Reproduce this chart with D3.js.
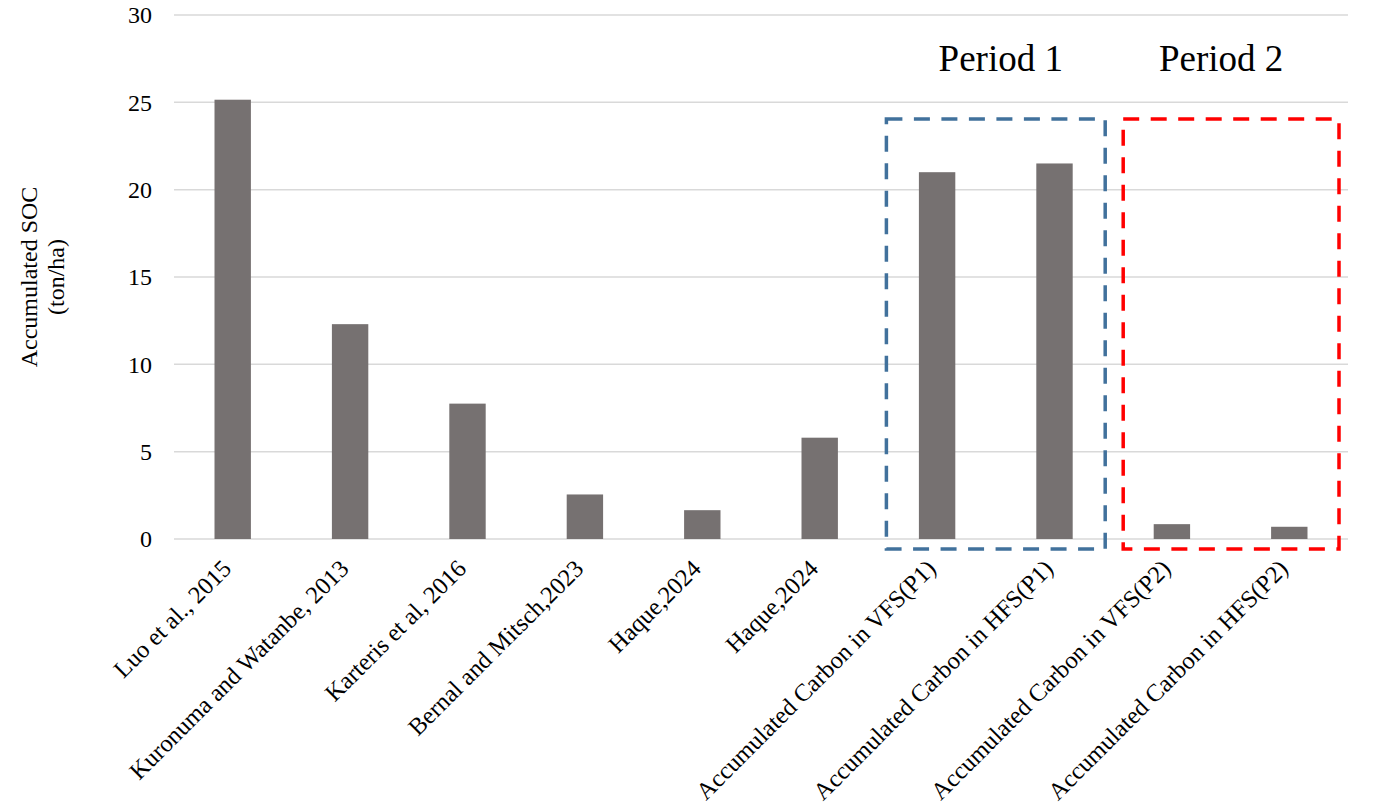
<!DOCTYPE html>
<html>
<head>
<meta charset="utf-8">
<script src="https://cdn.jsdelivr.net/npm/d3@7"></script>
<style>
  body { margin: 0; background: #fff; }
  text { font-family: "Liberation Serif", "Times New Roman", serif; fill: #000; }
</style>
</head>
<body>
<div id="chart"></div>
<script>
const categories = [
  'Luo et al., 2015',
  'Kuronuma and Watanbe, 2013',
  'Karteris et al, 2016',
  'Bernal and Mitsch,2023',
  'Haque,2024',
  'Haque,2024 ',
  'Accumulated Carbon in VFS(P1)',
  'Accumulated Carbon in HFS(P1)',
  'Accumulated Carbon in VFS(P2)',
  'Accumulated Carbon in HFS(P2)'
]
const values = [25.15, 12.3, 7.75, 2.55, 1.65, 5.8, 21.0, 21.5, 0.85, 0.7]
const yTicks = [0, 5, 10, 15, 20, 25, 30]
const periods = [
  { label: 'Period 1', from: 6, to: 7, color: '#41719C' },
  { label: 'Period 2', from: 8, to: 9, color: '#FF0000' }
]

const width = 1383
const height = 812
const margin = { top: 15, right: 35, bottom: 273, left: 174 }
const chartWidth = width - margin.left - margin.right
const chartHeight = height - margin.top - margin.bottom

const svg = d3.select('#chart').append('svg')
  .attr('width', width)
  .attr('height', height)

const chart = svg.append('g')
  .attr('transform', `translate(${margin.left},${margin.top})`)

const x = d3.scaleBand()
  .domain(categories)
  .range([0, chartWidth])
  .paddingInner(0.69)
  .paddingOuter(0.345)

const y = d3.scaleLinear()
  .domain([0, 30])
  .range([chartHeight, 0])

// gridlines
chart.append('g')
  .selectAll('line')
  .data(yTicks)
  .join('line')
  .attr('x1', 0)
  .attr('x2', chartWidth)
  .attr('y1', d => y(d))
  .attr('y2', d => y(d))
  .attr('stroke', '#D9D9D9')
  .attr('stroke-width', 1.5)

// y tick labels
chart.append('g')
  .selectAll('text')
  .data(yTicks)
  .join('text')
  .attr('x', -22)
  .attr('y', d => y(d))
  .attr('dy', '0.35em')
  .attr('text-anchor', 'end')
  .style('font-size', '24px')
  .text(d => d)

// bars
chart.append('g')
  .selectAll('rect')
  .data(values)
  .join('rect')
  .attr('x', (d, i) => x(categories[i]))
  .attr('width', x.bandwidth())
  .attr('y', d => y(d))
  .attr('height', d => y(0) - y(d))
  .attr('fill', '#767171')

// category labels
chart.append('g')
  .selectAll('text')
  .data(categories)
  .join('text')
  .attr('transform', d => `translate(${x(d) + x.bandwidth() / 2 - 6},${chartHeight + 25}) rotate(-45)`)
  .attr('dy', '0.35em')
  .attr('text-anchor', 'end')
  .style('font-size', '24.5px')
  .text(d => d.trim())

// period boxes
const step = x.step()
const labelShift = [5, -10]
const boxes = chart.append('g')
periods.forEach((p, k) => {
  const x0 = x(categories[p.from]) - step * x.paddingInner() / 2 + (k === 0 ? 8 : 10)
  const x1 = x(categories[p.to]) + x.bandwidth() + step * x.paddingInner() / 2 - (k === 0 ? 8 : 9)
  const y0 = y(24.05)
  const y1 = y(0) + 10
  boxes.append('rect')
    .attr('x', x0)
    .attr('y', y0)
    .attr('width', x1 - x0)
    .attr('height', y1 - y0)
    .attr('fill', 'none')
    .attr('stroke', p.color)
    .attr('stroke-width', 3.5)
    .attr('stroke-dasharray', '16,11.5')
  boxes.append('text')
    .attr('x', (x0 + x1) / 2 + labelShift[k])
    .attr('y', y(27.5) + 12)
    .attr('text-anchor', 'middle')
    .style('font-size', '37px')
    .text(p.label)
})

// y axis title
const title = svg.append('text')
  .attr('transform', `translate(42,${margin.top + chartHeight / 2}) rotate(-90)`)
  .attr('text-anchor', 'middle')
  .style('font-size', '24px')
title.append('tspan').attr('x', 0).attr('dy', '-0.2em').text('Accumulated SOC')
title.append('tspan').attr('x', 0).attr('dy', '1.1em').text('(ton/ha)')
</script>
</body>
</html>
